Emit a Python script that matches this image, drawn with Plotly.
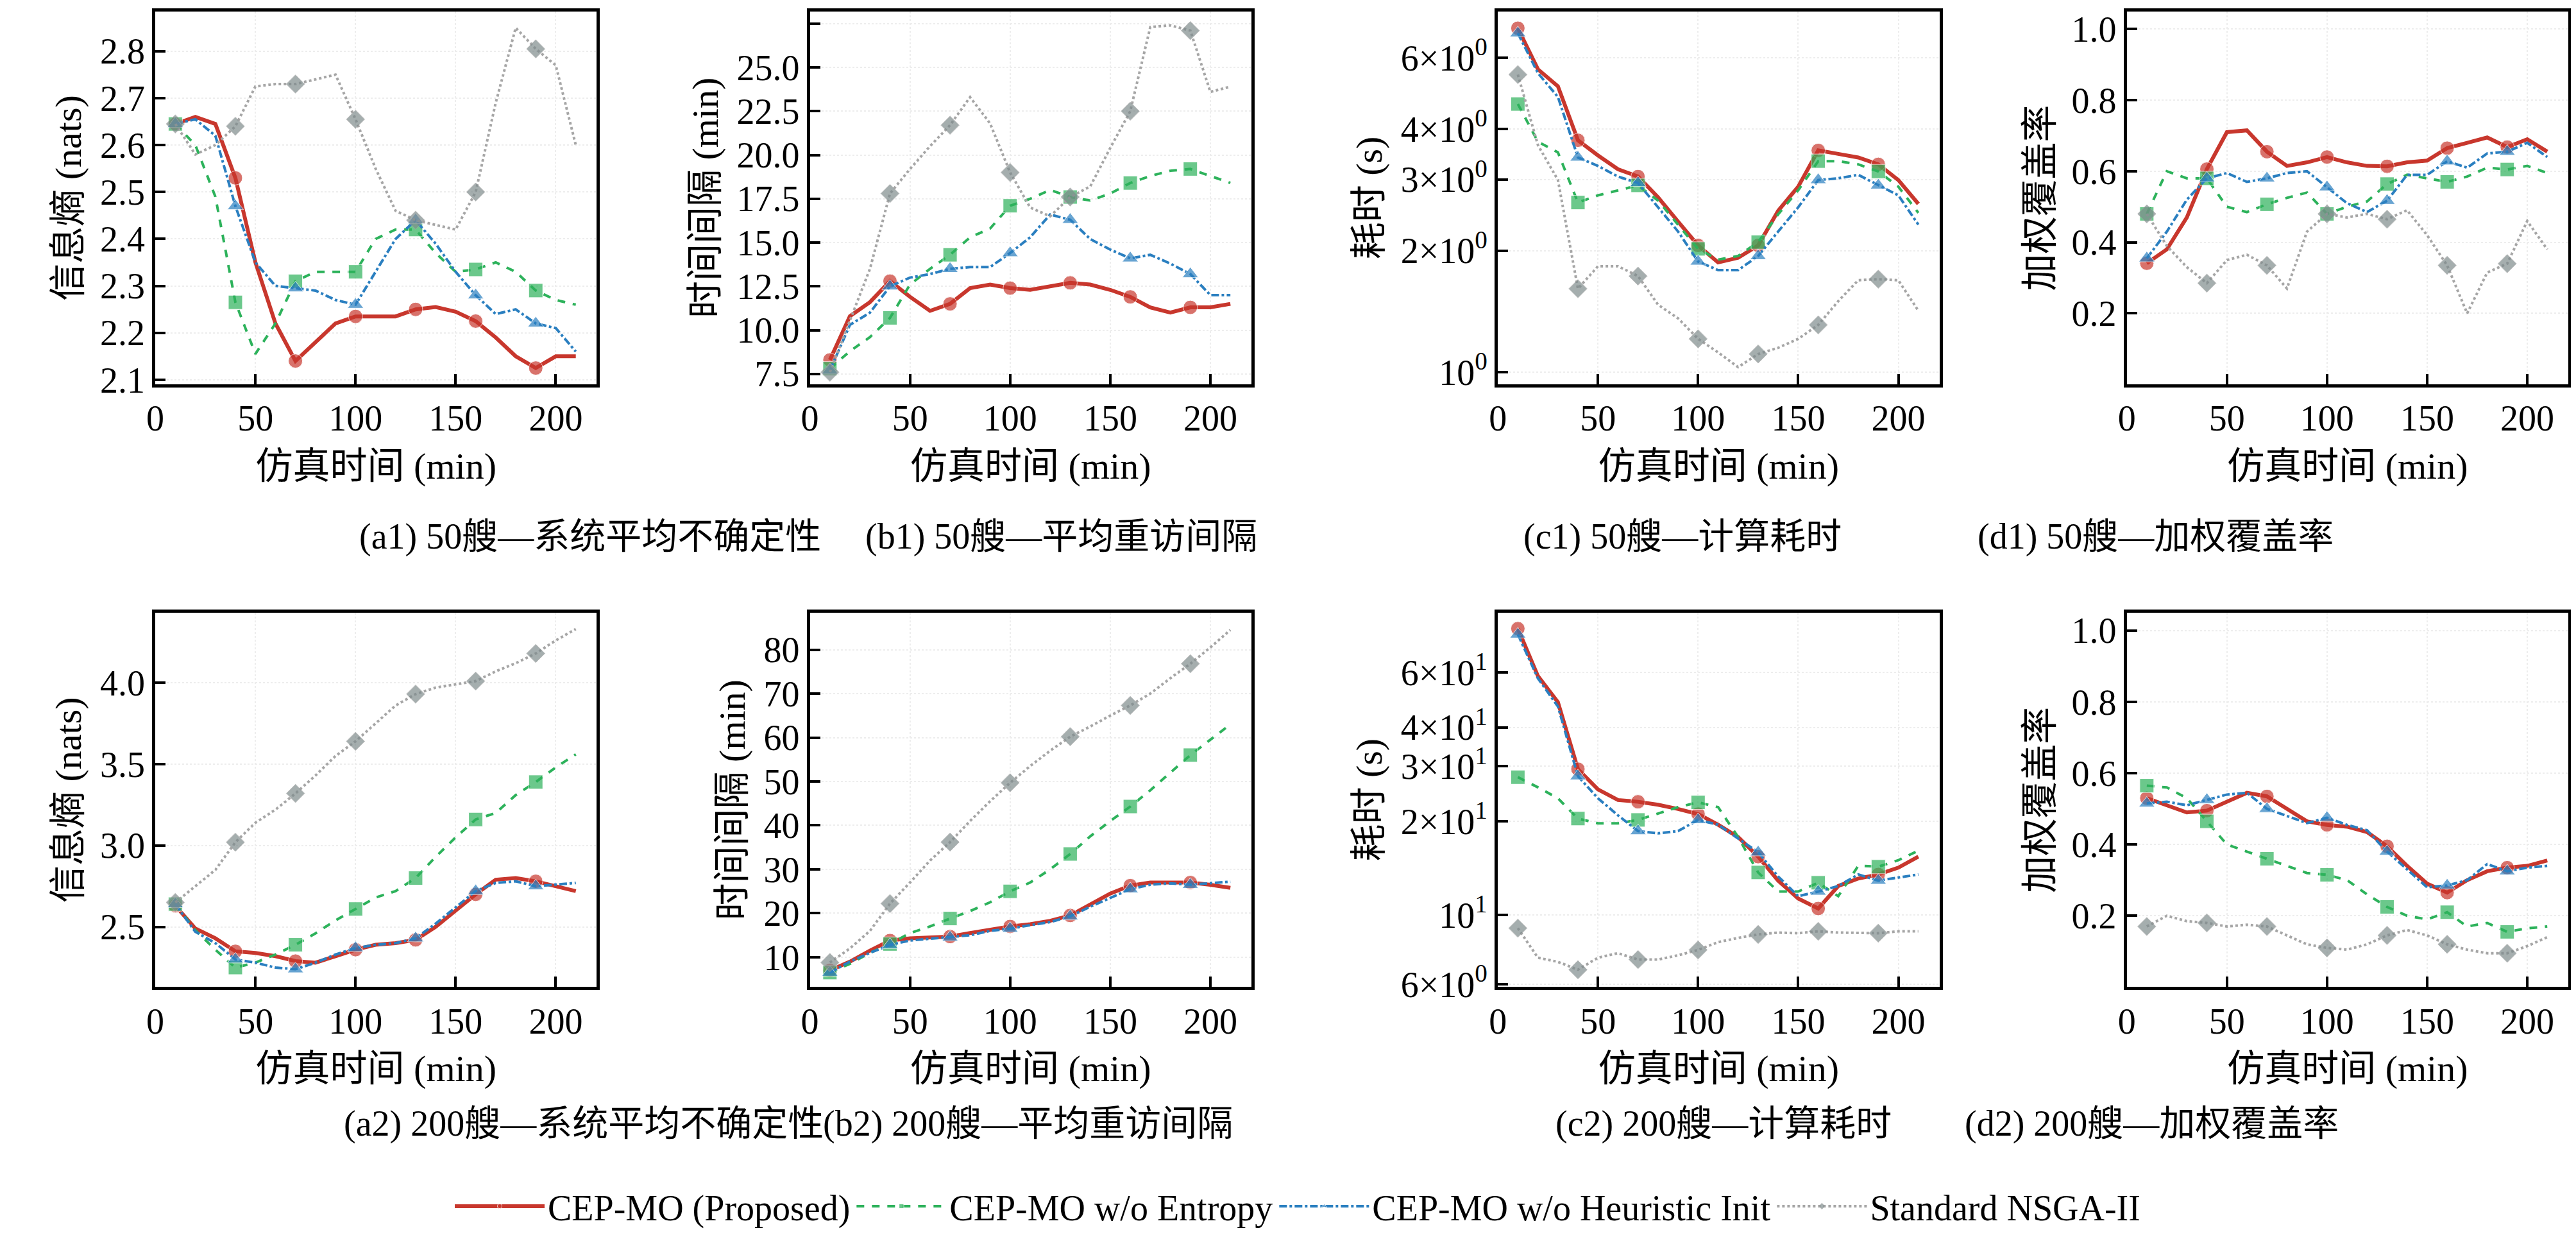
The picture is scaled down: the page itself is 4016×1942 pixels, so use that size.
import plotly.graph_objects as go

# simulation time (min)
t = [10, 20, 30, 40, 50, 60, 70, 80, 90, 100, 110, 120, 130, 140, 150, 160, 170, 180, 190, 200, 210]
marker_times = [10, 40, 70, 100, 130, 160, 190]

methods = ["CEP-MO (Proposed)", "CEP-MO w/o Entropy", "CEP-MO w/o Heuristic Init", "Standard NSGA-II"]

# (a1) 50 ships - entropy
a1_prop = [2.645, 2.66, 2.645, 2.53, 2.35, 2.22, 2.14, 2.18, 2.22, 2.235, 2.235, 2.235, 2.25, 2.255, 2.245, 2.225, 2.19, 2.15, 2.125, 2.15, 2.15]
a1_noent = [2.645, 2.60, 2.49, 2.265, 2.155, 2.22, 2.31, 2.33, 2.33, 2.33, 2.40, 2.42, 2.42, 2.37, 2.33, 2.335, 2.35, 2.33, 2.29, 2.27, 2.26]
a1_noinit = [2.645, 2.655, 2.62, 2.47, 2.35, 2.30, 2.295, 2.29, 2.27, 2.26, 2.33, 2.40, 2.44, 2.39, 2.33, 2.28, 2.24, 2.25, 2.22, 2.21, 2.16]
a1_nsga = [2.645, 2.58, 2.60, 2.64, 2.725, 2.73, 2.73, 2.74, 2.75, 2.655, 2.55, 2.46, 2.44, 2.43, 2.42, 2.50, 2.69, 2.85, 2.805, 2.77, 2.60]

# (b1) 50 ships - revisit interval
b1_prop = [8.3, 10.8, 11.6, 12.8, 11.9, 11.1, 11.5, 12.4, 12.6, 12.4, 12.3, 12.5, 12.7, 12.6, 12.3, 11.9, 11.3, 11.0, 11.3, 11.3, 11.5]
b1_noent = [7.8, 8.8, 9.6, 10.7, 12.6, 13.5, 14.3, 15.3, 15.8, 17.1, 17.5, 18.0, 17.6, 17.4, 17.8, 18.4, 18.8, 19.1, 19.2, 18.8, 18.4]
b1_noinit = [7.7, 10.3, 11.0, 12.5, 13.0, 13.2, 13.5, 13.6, 13.6, 14.4, 15.3, 16.6, 16.3, 15.2, 14.6, 14.1, 14.3, 13.8, 13.2, 12.0, 12.0]
b1_nsga = [7.6, 10.5, 13.5, 17.8, 19.2, 20.5, 21.7, 23.3, 21.8, 19.0, 17.0, 16.5, 17.6, 18.2, 20.4, 22.5, 27.3, 27.4, 27.1, 23.6, 23.9]

# (c1) 50 ships - runtime (s)
c1_prop = [7.1, 5.62, 5.1, 3.75, 3.44, 3.18, 3.05, 2.71, 2.36, 2.06, 1.87, 1.92, 2.06, 2.51, 2.88, 3.54, 3.47, 3.4, 3.27, 2.99, 2.61]
c1_noent = [4.61, 3.72, 3.5, 2.63, 2.74, 2.82, 2.9, 2.66, 2.32, 2.02, 1.9, 1.94, 2.1, 2.46, 2.82, 3.33, 3.33, 3.27, 3.14, 2.88, 2.48]
c1_noinit = [6.9, 5.5, 4.8, 3.4, 3.24, 3.05, 2.94, 2.56, 2.23, 1.88, 1.79, 1.79, 1.94, 2.23, 2.56, 2.99, 3.02, 3.08, 2.9, 2.74, 2.32]
c1_nsga = [5.45, 3.65, 2.99, 1.61, 1.83, 1.83, 1.73, 1.47, 1.36, 1.21, 1.12, 1.03, 1.11, 1.15, 1.21, 1.31, 1.5, 1.69, 1.70, 1.69, 1.42]

# (d1) 50 ships - weighted coverage
d1_prop = [0.341, 0.38, 0.47, 0.606, 0.71, 0.715, 0.655, 0.615, 0.625, 0.64, 0.625, 0.615, 0.614, 0.625, 0.63, 0.665, 0.68, 0.695, 0.668, 0.69, 0.655]
d1_noent = [0.48, 0.60, 0.58, 0.58, 0.50, 0.485, 0.507, 0.525, 0.54, 0.48, 0.50, 0.515, 0.564, 0.59, 0.58, 0.57, 0.585, 0.61, 0.605, 0.615, 0.595]
d1_noinit = [0.355, 0.43, 0.52, 0.58, 0.595, 0.57, 0.58, 0.595, 0.60, 0.555, 0.51, 0.485, 0.517, 0.59, 0.59, 0.628, 0.61, 0.65, 0.655, 0.68, 0.64]
d1_nsga = [0.48, 0.39, 0.33, 0.285, 0.35, 0.365, 0.335, 0.27, 0.43, 0.48, 0.47, 0.48, 0.465, 0.49, 0.42, 0.335, 0.20, 0.315, 0.34, 0.46, 0.38]

# (a2) 200 ships - entropy
a2_prop = [2.63, 2.49, 2.43, 2.35, 2.34, 2.32, 2.29, 2.28, 2.32, 2.36, 2.39, 2.40, 2.42, 2.50, 2.60, 2.70, 2.79, 2.80, 2.78, 2.75, 2.72]
a2_noent = [2.64, 2.48, 2.36, 2.25, 2.28, 2.33, 2.39, 2.46, 2.54, 2.61, 2.68, 2.72, 2.80, 2.93, 3.05, 3.16, 3.20, 3.31, 3.39, 3.48, 3.56]
a2_noinit = [2.64, 2.47, 2.40, 2.30, 2.28, 2.25, 2.24, 2.28, 2.33, 2.37, 2.39, 2.40, 2.43, 2.52, 2.62, 2.72, 2.77, 2.78, 2.75, 2.76, 2.77]
a2_nsga = [2.65, 2.75, 2.85, 3.02, 3.14, 3.22, 3.32, 3.43, 3.55, 3.64, 3.75, 3.86, 3.93, 3.97, 3.99, 4.01, 4.07, 4.12, 4.18, 4.26, 4.33]

# (b2) 200 ships - revisit interval
b2_prop = [7, 9, 11.5, 13.8, 14.3, 14.5, 14.7, 15.5, 16.3, 17, 17.5, 18.3, 19.5, 22, 24.5, 26.3, 27, 27, 27, 26.5, 25.8]
b2_noent = [6.5, 8.5, 11, 13, 15.5, 17, 18.8, 20.5, 22.5, 25, 27, 30, 33.5, 37.5, 41, 44.3, 48, 52, 56, 59.5, 63]
b2_noinit = [6.5, 9, 11, 12.8, 13.8, 14.2, 14.5, 15, 16, 16.5, 17.3, 18, 19.3, 21.5, 23.5, 25.5, 26.5, 26.8, 26.5, 26.8, 27.2]
b2_nsga = [8.8, 12, 16, 22.2, 27, 32, 36.2, 41, 45.5, 49.7, 53.5, 57, 60.2, 62.5, 65, 67.3, 70, 73.5, 76.8, 80.5, 84.5]

# (c2) 200 ships - runtime (s)
c2_prop = [83, 58.5, 48.2, 29.4, 25.3, 23.4, 23.1, 22.6, 21.9, 21.1, 19.5, 17.8, 15.4, 12.9, 11.3, 10.5, 12.4, 13.1, 13.5, 14.2, 15.4]
c2_noent = [27.7, 25.7, 23.7, 20.4, 19.7, 19.7, 20.2, 21.2, 22.2, 23, 22.2, 17.8, 13.7, 11.9, 11.9, 12.7, 11.5, 14.4, 14.3, 15, 16.1]
c2_noinit = [79.5, 57.5, 46.7, 27.9, 23.7, 20.9, 18.6, 18.3, 18.6, 20.2, 19.5, 17.6, 15.9, 13.3, 11.5, 11.9, 12.4, 13.5, 12.9, 13.2, 13.5]
c2_nsga = [9.08, 7.3, 7.08, 6.68, 7.3, 7.55, 7.2, 7.2, 7.43, 7.73, 8.19, 8.45, 8.67, 8.79, 8.75, 8.87, 8.79, 8.79, 8.75, 8.87, 8.87]

# (d2) 200 ships - weighted coverage
d2_prop = [0.53, 0.51, 0.49, 0.495, 0.52, 0.545, 0.535, 0.50, 0.465, 0.455, 0.45, 0.435, 0.395, 0.34, 0.29, 0.265, 0.30, 0.325, 0.335, 0.34, 0.355]
d2_noent = [0.565, 0.56, 0.53, 0.465, 0.40, 0.38, 0.36, 0.34, 0.32, 0.315, 0.30, 0.26, 0.225, 0.20, 0.19, 0.21, 0.17, 0.18, 0.155, 0.165, 0.17]
d2_noinit = [0.515, 0.52, 0.51, 0.525, 0.54, 0.545, 0.50, 0.48, 0.46, 0.475, 0.455, 0.44, 0.38, 0.33, 0.28, 0.285, 0.30, 0.345, 0.325, 0.335, 0.34]
d2_nsga = [0.17, 0.20, 0.185, 0.18, 0.17, 0.175, 0.17, 0.145, 0.12, 0.11, 0.105, 0.12, 0.145, 0.16, 0.145, 0.12, 0.105, 0.095, 0.095, 0.115, 0.14]

ylabels = ["信息熵 (nats)", "时间间隔 (min)", "耗时 (s)", "加权覆盖率"]
captions_top = ["(a1) 50艘—系统平均不确定性", "(b1) 50艘—平均重访间隔", "(c1) 50艘—计算耗时", "(d1) 50艘—加权覆盖率"]
captions_bot = ["(a2) 200艘—系统平均不确定性", "(b2) 200艘—平均重访间隔", "(c2) 200艘—计算耗时", "(d2) 200艘—加权覆盖率"]
caption_x_top = [0.134, 0.408, 0.650, 0.904]
caption_x_bot = [0.128, 0.395, 0.666, 0.906]

colors = ["#C8372D", "#2DB25B", "#2A7FC0", "#A6A6A6"]
marker_colors = ["#C8372D", "#2DB25B", "#2A7FC0", "#7F8C8D"]
dashes = ["solid", "dash", "dashdot", "dot"]
symbols = ["circle", "square", "triangle-up", "diamond"]
widths = [6, 4, 4, 4]

panels = [
    [a1_prop, a1_noent, a1_noinit, a1_nsga],
    [b1_prop, b1_noent, b1_noinit, b1_nsga],
    [c1_prop, c1_noent, c1_noinit, c1_nsga],
    [d1_prop, d1_noent, d1_noinit, d1_nsga],
    [a2_prop, a2_noent, a2_noinit, a2_nsga],
    [b2_prop, b2_noent, b2_noinit, b2_nsga],
    [c2_prop, c2_noent, c2_noinit, c2_nsga],
    [d2_prop, d2_noent, d2_noinit, d2_nsga],
]

xdomains = [[0.055, 0.227], [0.310, 0.482], [0.578, 0.750], [0.823, 0.995]]
ydomains = [[0.692, 0.996], [0.201, 0.506]]

FONT = "Liberation Serif, Noto Sans CJK SC"
fig = go.Figure()
msize = [22 if x in marker_times else 0 for x in t]

for p, series in enumerate(panels):
    ax = "" if p == 0 else str(p + 1)
    for k, ys in enumerate(series):
        fig.add_trace(go.Scatter(
            x=t, y=ys, mode="lines+markers", name=methods[k],
            legendgroup=methods[k], showlegend=(p == 0),
            line=dict(color=colors[k], width=widths[k], dash=dashes[k]),
            marker=dict(symbol=symbols[k], size=msize, color=marker_colors[k]),
            xaxis="x" + ax, yaxis="y" + ax,
        ))

axis_style = dict(showline=True, linecolor="black", linewidth=5, mirror=True,
                  ticks="inside", ticklen=16, tickwidth=4, tickcolor="black",
                  showgrid=True, gridcolor="#EDEDED", griddash="dot", gridwidth=2,
                  zeroline=False, tickfont=dict(size=56, family=FONT))

layout = {}
log_ranges = {2: [-0.03, 0.893], 6: [0.769, 1.97]}
log_ticks = {
    2: ([1, 2, 3, 4, 6], ["10<sup>0</sup>", "2×10<sup>0</sup>", "3×10<sup>0</sup>", "4×10<sup>0</sup>", "6×10<sup>0</sup>"]),
    6: ([6, 10, 20, 30, 40, 60], ["6×10<sup>0</sup>", "10<sup>1</sup>", "2×10<sup>1</sup>", "3×10<sup>1</sup>", "4×10<sup>1</sup>", "6×10<sup>1</sup>"]),
}
lin_ranges = {0: [2.09, 2.885], 1: [6.9, 28.2], 3: [0, 1.05], 4: [2.13, 4.43], 5: [3.2, 88.4], 7: [0, 1.05]}
lin_dticks = {0: 0.1, 1: 2.5, 3: 0.2, 4: 0.5, 5: 10, 7: 0.2}

for p in range(8):
    row, col = divmod(p, 4)
    n = "" if p == 0 else str(p + 1)
    xa = dict(axis_style, domain=xdomains[col], anchor="y" + n, range=[0, 220.5],
              tickvals=[0, 50, 100, 150, 200],
              title=dict(text="仿真时间 (min)", font=dict(size=58, family=FONT), standoff=24))
    ya = dict(axis_style, domain=ydomains[row], anchor="x" + n,
              title=dict(text=ylabels[col], font=dict(size=58, family=FONT), standoff=12))
    if p in log_ranges:
        ya.update(type="log", range=log_ranges[p], tickvals=log_ticks[p][0], ticktext=log_ticks[p][1])
    else:
        ya.update(range=lin_ranges[p], dtick=lin_dticks[p])
        if col == 1 and row == 0:
            ya.update(tickformat=".1f", tick0=7.5)
        elif col == 3:
            ya.update(tickvals=[0.2, 0.4, 0.6, 0.8, 1.0], tickformat=".1f")
        elif col == 0:
            ya.update(tickformat=".1f")
    layout["xaxis" + n] = xa
    layout["yaxis" + n] = ya

annotations = []
for col in range(4):
    annotations.append(dict(text=captions_top[col], x=caption_x_top[col], y=0.568, xref="paper", yref="paper",
                            showarrow=False, font=dict(size=56, family=FONT)))
    annotations.append(dict(text=captions_bot[col], x=caption_x_bot[col], y=0.072, xref="paper", yref="paper",
                            showarrow=False, font=dict(size=56, family=FONT)))

fig.update_layout(
    **layout,
    annotations=annotations,
    width=4016, height=1942,
    plot_bgcolor="white", paper_bgcolor="white",
    margin=dict(l=0, r=0, t=0, b=0),
    font=dict(family=FONT, size=56, color="black"),
    legend=dict(orientation="h", x=0.5, xanchor="center", y=0.0, yanchor="bottom",
                font=dict(size=56, family=FONT), itemwidth=140,
                bgcolor="rgba(0,0,0,0)"),
)

fig.write_html("out.html")
